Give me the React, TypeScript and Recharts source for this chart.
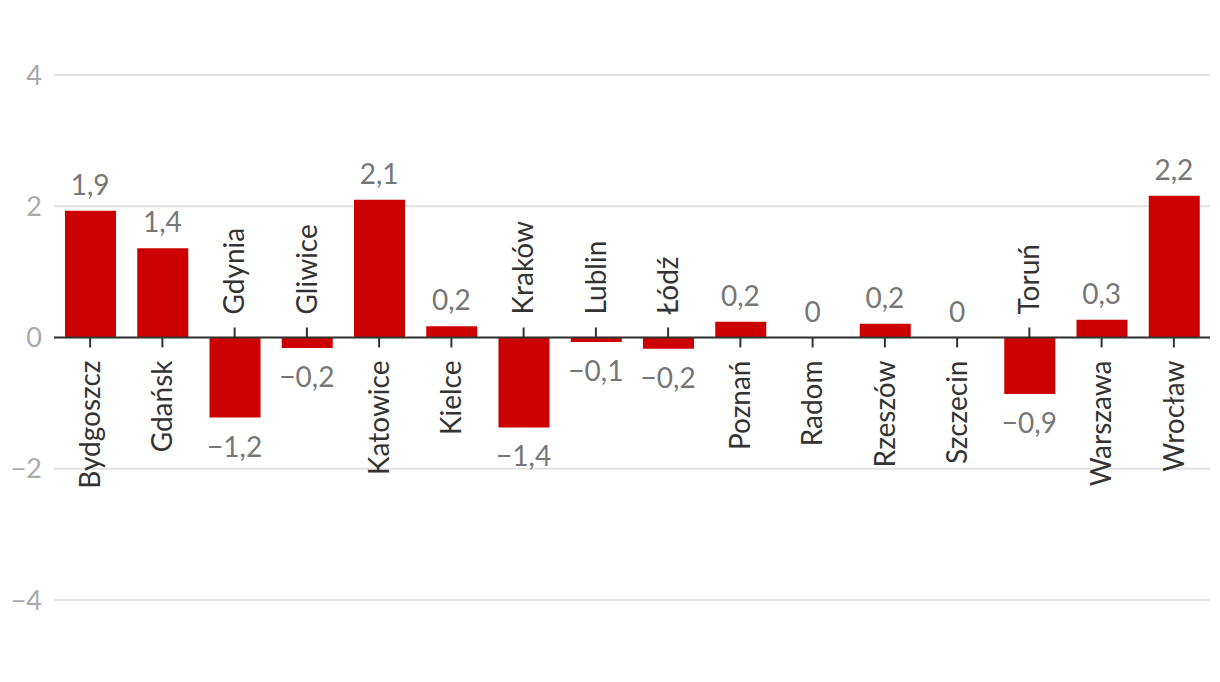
import React from 'react';
import { BarChart, Bar, XAxis, YAxis, CartesianGrid, ReferenceLine, ReferenceDot } from 'recharts';

const CITIES = ['Bydgoszcz', 'Gdańsk', 'Gdynia', 'Gliwice', 'Katowice', 'Kielce', 'Kraków', 'Lublin', 'Łódź', 'Poznań', 'Radom', 'Rzeszów', 'Szczecin', 'Toruń', 'Warszawa', 'Wrocław'];
const VALUES = [1.93, 1.36, -1.22, -0.16, 2.1, 0.17, -1.37, -0.07, -0.17, 0.24, 0, 0.21, 0, -0.86, 0.27, 2.16];
const Y_TICKS = [-4, -2, 0, 2, 4];

const FONT = 'Lato, "Noto Sans", sans-serif';

const data = CITIES.map((city, i) => ({ city, value: VALUES[i] }));

const fmt = (v: number) => {
    if (v === 0) return '0';
    return v.toFixed(1).replace('.', ',').replace('-', '\u2212');
};

// value above positive bars, below negative ones
const valueShape = (v: number) => (p: any) => {
    const ty = v < 0 ? p.cy + 39 : p.cy - 16;
    return (
        <text x={p.cx} y={ty} textAnchor="middle" fill="#777" fontSize={28} fontFamily={FONT}>
            {fmt(v)}
        </text>
    );
};

// tick on the zero line plus rotated city name on the other side of the bar
const cityShape = (name: string, v: number) => (p: any) => {
    const below = v >= 0;
    const ty = below ? p.cy + 23 : p.cy - 23;
    return (
        <g>
            <line x1={p.cx} x2={p.cx} y1={p.cy} y2={below ? p.cy + 10 : p.cy - 10} stroke="#333" strokeWidth={2} />
            <text
                transform={`translate(${p.cx},${ty}) rotate(-90)`}
                textAnchor={below ? 'end' : 'start'}
                dy="0.35em"
                fill="#333"
                fontSize={28}
                fontFamily={FONT}
            >
                {name}
            </text>
        </g>
    );
};

const YTick = (props: any) => {
    const { x, y, payload } = props;
    return (
        <text x={x} y={y} dy="0.36em" textAnchor="end" fill="#aaa" fontSize={27} fontFamily={FONT}>
            {String(payload.value).replace('-', '\u2212')}
        </text>
    );
};

export default function App() {
    return (
        <div style={{ width: 1212, height: 660, fontFamily: FONT }}>
            <BarChart width={1212} height={660} data={data} margin={{ top: 67, right: 10, bottom: 68, left: 0 }}>
                <CartesianGrid vertical={false} stroke="#e3e3e3" strokeWidth={2} />
                <XAxis dataKey="city" hide />
                <YAxis domain={[-4, 4]} ticks={Y_TICKS} width={46} axisLine={false} tickLine={false} tick={<YTick />} tickMargin={6} />
                <Bar dataKey="value" fill="#cc0000" barSize={51} isAnimationActive={false} />
                <ReferenceLine y={0} stroke="#333" strokeWidth={2} />
                {data.map((d) => (
                    <ReferenceDot key={'c' + d.city} x={d.city} y={0} r={0} shape={cityShape(d.city, d.value)} />
                ))}
                {data.map((d) => (
                    <ReferenceDot key={'v' + d.city} x={d.city} y={d.value} r={0} shape={valueShape(d.value)} />
                ))}
            </BarChart>
        </div>
    );
}
